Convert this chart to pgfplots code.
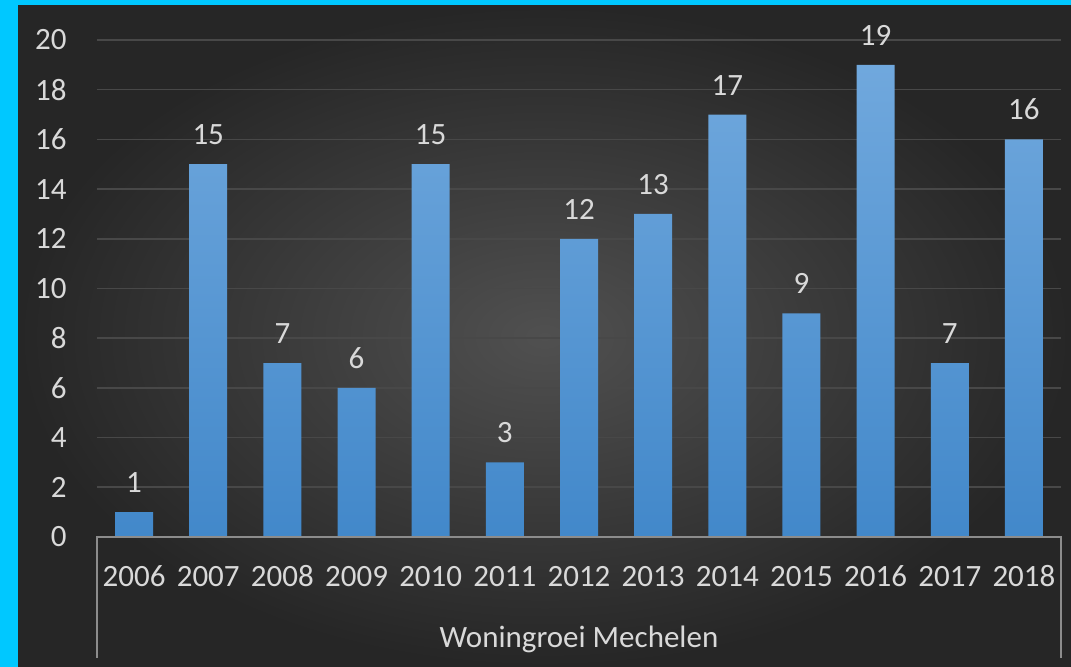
\documentclass[border=0pt]{standalone}
\usepackage{pgfplots}
\pgfplotsset{compat=1.18}
\usepackage{fontspec}
\setmainfont{Carlito}
\definecolor{frame}{RGB}{0,200,255}
\definecolor{bgin}{RGB}{80,80,80}
\definecolor{bgout}{RGB}{38,38,38}
\definecolor{bartop}{RGB}{112,168,221}
\definecolor{barbot}{RGB}{66,136,202}
\definecolor{txt}{RGB}{217,217,217}
\definecolor{gridc}{RGB}{72,72,72}
\definecolor{axl}{RGB}{140,140,140}
\begin{document}
\begin{tikzpicture}
\useasboundingbox (0,0) rectangle (535.5pt,333.5pt);
\fill[frame] (0,0) rectangle (535.5pt,333.5pt);
\shade[inner color=bgin, outer color=bgout] (9pt,0) rectangle (535.5pt,330.5pt);
\begin{axis}[
  at={(48.5pt,65pt)}, anchor=south west,
  scale only axis, width=482pt, height=248.5pt,
  xmin=-0.5, xmax=12.5, ymin=0, ymax=20,
  xtick={0,...,12},
  xticklabels={2006,2007,2008,2009,2010,2011,2012,2013,2014,2015,2016,2017,2018},
  ytick={0,2,...,20},
  major tick length=0pt,
  axis line style={draw=none},
  xmajorgrids=false,
  ymajorgrids=true, major grid style={draw=gridc, line width=0.8pt},
  /pgf/number format/assume math mode=true,
  font=\fontsize{15.5}{18}\selectfont\color{txt},
  xticklabel style={anchor=base, inner sep=0pt, yshift=-25pt},
  yticklabel style={anchor=east, inner sep=0pt, xshift=-15pt},
  clip=false,
  nodes near coords,
  nodes near coords style={anchor=south, inner sep=0pt, yshift=9.5pt, color=txt},
]
\addplot[ybar, bar width=19pt, draw=none, top color=bartop, bottom color=barbot] coordinates {
(0,1) (1,15) (2,7) (3,6) (4,15) (5,3) (6,12) (7,13) (8,17) (9,9) (10,19) (11,7) (12,16)};
\draw[axl, line width=1pt] ([yshift=-60.5pt]rel axis cs:0,0) -- (rel axis cs:0,0) -- (rel axis cs:1,0) -- ([yshift=-60.5pt]rel axis cs:1,0);
\node[anchor=base, inner sep=0pt, txt] at ([yshift=-55.5pt]rel axis cs:0.5,0) {Woningroei Mechelen};
\end{axis}
\end{tikzpicture}
\end{document}
